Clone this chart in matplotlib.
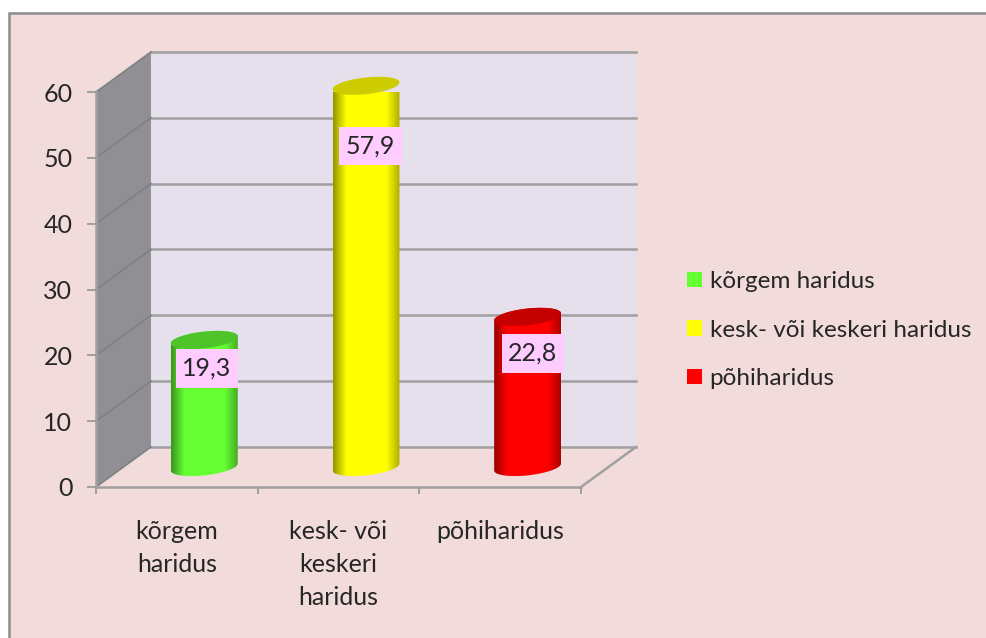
import matplotlib
matplotlib.use("Agg")
import matplotlib.pyplot as plt
import numpy as np
from matplotlib.colors import to_rgb
from matplotlib.patches import Patch, Polygon, Rectangle

plt.rcParams["font.family"] = ["Lato", "DejaVu Sans"]

categories = ["kõrgem\nharidus", "kesk- või\nkeskeri\nharidus", "põhiharidus"]
legend_labels = ["kõrgem haridus", "kesk- või keskeri haridus", "põhiharidus"]
values = [19.3, 57.9, 22.8]
value_labels = ["19,3", "57,9", "22,8"]
y_ticks = [0, 10, 20, 30, 40, 50, 60]

colors = ["#66FF33", "#FFFF00", "#FF0000"]
cap_colors = ["#4FC42A", "#CCCC00", "#C40000"]

BG = "#F2DCDB"
WALL = "#E6E0EC"
SIDE = "#909094"
LINE = "#A0A0A0"
TEXT = "#262626"

# fake 3d: how far the back wall is shifted from the front plane, in data units
DEPTH_X = 0.34
DEPTH_Y = 6.08
# cylinder ellipse
CYL_A = 0.207
CYL_B = 1.27
CYL_S = 0.53
# label boxes, in front plane units
label_x = [0.687, 1.698, 2.703]
label_y = [18.0, 51.8, 20.3]
LABEL_W = 0.385
LABEL_H = 5.9

W, H = 987, 638


def project(x, y, d):
    return x + d * DEPTH_X, y + d * DEPTH_Y


def ellipse_arc(cx, cy, t0, t1):
    t = np.linspace(t0, t1, 80)
    return np.column_stack([
        cx + CYL_A * np.cos(t),
        cy + CYL_B * np.sin(t) + CYL_S * np.cos(t),
    ])


def draw_cylinder(ax, i, value, color, cap):
    cx, base = project(i + 0.5, 0, 0.5)
    _, top = project(i + 0.5, value, 0.5)

    outline = np.vstack([ellipse_arc(cx, top, np.pi, 0), ellipse_arc(cx, base, 0, -np.pi)])
    body = Polygon(outline, closed=True, facecolor="none", edgecolor="none", transform=ax.transData)
    ax.add_patch(body)
    body.set_clip_on(False)

    u = np.linspace(0, 1, 128)
    shade = np.interp(u, [0, 0.2, 0.8, 1], [0.58, 1, 1, 0.68])
    img = np.outer(shade, to_rgb(color))[np.newaxis, :, :]
    im = ax.imshow(
        img,
        extent=(cx - CYL_A, cx + CYL_A, base - 3, top + 3),
        aspect="auto",
        interpolation="bilinear",
        zorder=3,
    )
    im.set_clip_box(None)
    im.set_clip_path(body)

    ax.add_patch(Polygon(ellipse_arc(cx, top, 0, 2 * np.pi), closed=True, facecolor=cap,
                         edgecolor="none", zorder=4, clip_on=False))


fig = plt.figure(figsize=(W / 100, H / 100), dpi=100, facecolor="white")
fig.add_artist(Rectangle((9 / W, -0.1), 1.1, 1.1 - 13 / H, transform=fig.transFigure,
                         facecolor=BG, edgecolor="#8C8C8C", linewidth=1.8, zorder=-1))

ax = fig.add_axes([96 / W, (H - 487) / H, 485 / W, 395 / H])
ax.patch.set_visible(False)
ax.set_xlim(0, 3)
ax.set_ylim(0, 60)

# walls
bx, by = project(0, 0, 1)
ax.add_patch(Rectangle((bx, by), 3, 60, facecolor=WALL, edgecolor="none", zorder=1, clip_on=False))
side = [project(0, 0, 0), project(0, 0, 1), project(0, 60, 1), project(0, 60, 0)]
ax.add_patch(Polygon(side, closed=True, facecolor=SIDE, edgecolor="none", zorder=1, clip_on=False))

for tick in y_ticks:
    x0, y0 = project(0, tick, 0)
    x1, y1 = project(0, tick, 1)
    x2, y2 = project(3, tick, 1)
    ax.plot([x1, x2], [y1, y2], color=LINE, lw=1.8, zorder=2, clip_on=False)
    ax.plot([x0, x1], [y0, y1], color="#808084", lw=1.2, zorder=2, clip_on=False)

# floor edge on the right
x0, y0 = project(3, 0, 0)
x1, y1 = project(3, 0, 1)
ax.plot([x0, x1], [y0, y1], color=LINE, lw=1.8, zorder=2, clip_on=False)

for i, (val, col, cap) in enumerate(zip(values, colors, cap_colors)):
    draw_cylinder(ax, i, val, col, cap)

for lx, ly, txt in zip(label_x, label_y, value_labels):
    ax.add_patch(Rectangle((lx - LABEL_W / 2, ly - LABEL_H / 2), LABEL_W, LABEL_H,
                           facecolor="#FFCCFF", edgecolor="none", zorder=5))
    ax.text(lx, ly, txt, ha="center", va="center", fontsize=18, color=TEXT, zorder=6)

for name in ("top", "right"):
    ax.spines[name].set_visible(False)
for name in ("left", "bottom"):
    ax.spines[name].set_color(LINE)
    ax.spines[name].set_linewidth(1.8)
    ax.spines[name].set_zorder(5)

ax.set_yticks(y_ticks)
ax.set_xticks([0, 1, 2, 3])
ax.set_xticklabels([])
ax.set_xticks([0.5, 1.5, 2.5], minor=True)
ax.set_xticklabels(categories, minor=True, fontsize=18, color=TEXT, linespacing=1.52)
ax.tick_params(axis="y", length=6.5, width=1.4, color=LINE, pad=10.5, labelsize=18, labelcolor=TEXT)
ax.tick_params(axis="x", which="major", length=5, width=1.4, color=LINE)
ax.tick_params(axis="x", which="minor", length=0, pad=24)

handles = [Patch(facecolor=c, edgecolor="none") for c in colors]
fig.legend(handles, legend_labels, loc="upper left", bbox_to_anchor=(687 / W, 1 - 271 / H),
           frameon=False, fontsize=17.5, labelcolor=TEXT, handlelength=0.6, handleheight=0.6,
           handletextpad=0.33, labelspacing=1.135, borderpad=0, borderaxespad=0)

fig.savefig("out.png", dpi=100, facecolor=fig.get_facecolor())
